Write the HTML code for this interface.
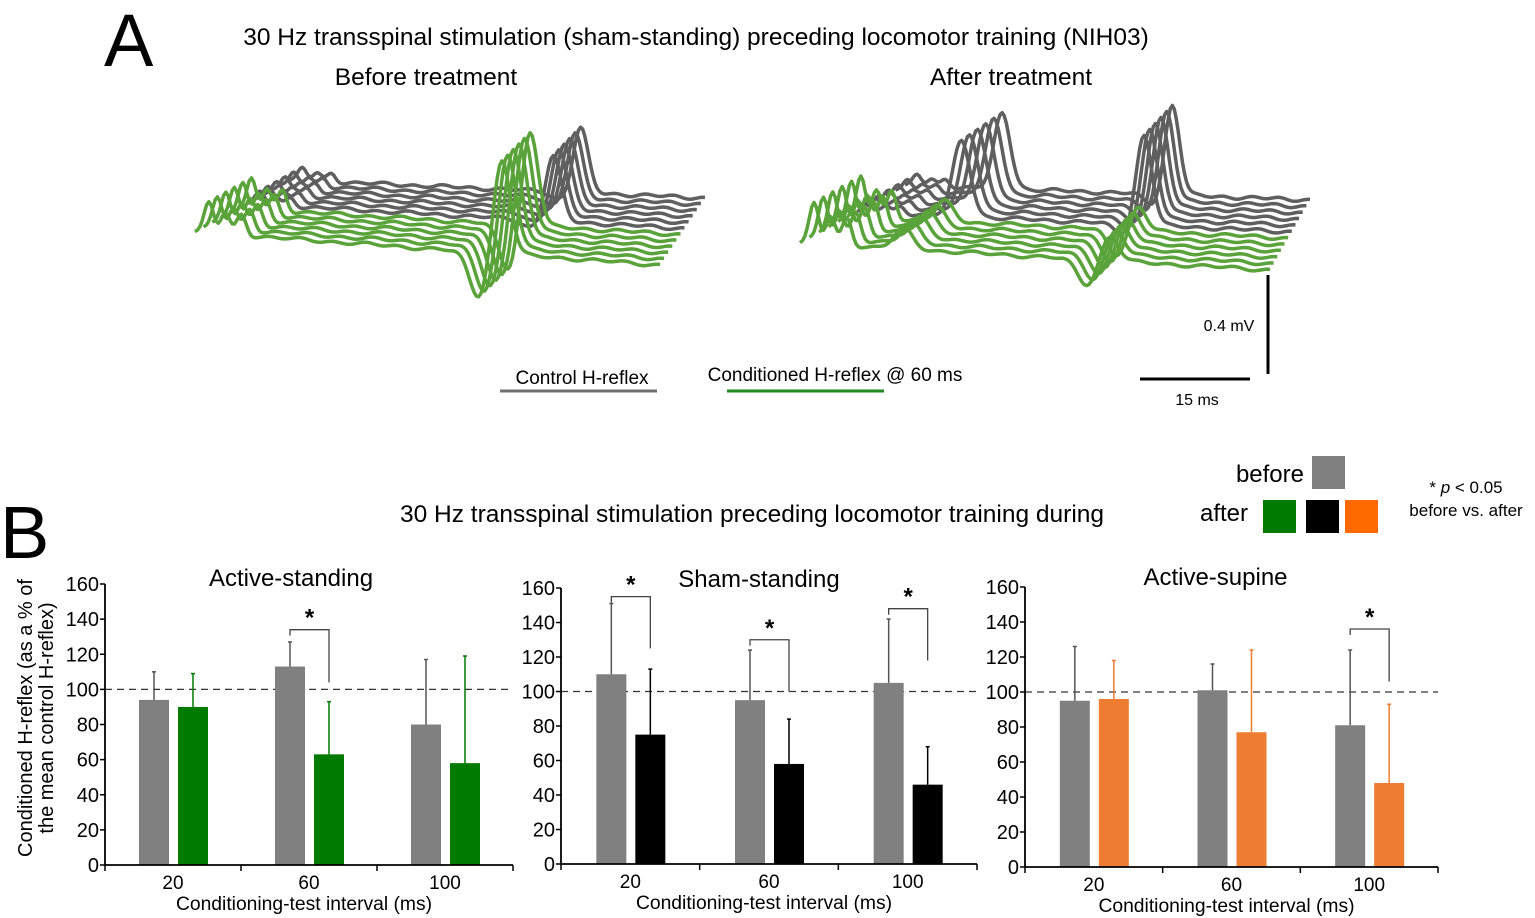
<!DOCTYPE html>
<html><head><meta charset="utf-8">
<style>
body{margin:0;background:#fff;}
svg{display:block;font-family:"Liberation Sans",Arial,sans-serif;}
</style></head>
<body>
<svg id="fig" width="1535" height="918" viewBox="0 0 1535 918" xmlns="http://www.w3.org/2000/svg">
<text x="104" y="66" font-size="74" fill="#000">A</text>
<text x="696" y="45" font-size="24.5" text-anchor="middle">30 Hz transspinal stimulation (sham-standing) preceding locomotor training (NIH03)</text>
<text x="426" y="85" font-size="24.5" text-anchor="middle">Before treatment</text>
<text x="1011" y="85" font-size="24.5" text-anchor="middle">After treatment</text>
<g id="traces"></g>
<g>
<text x="582" y="384" font-size="19" text-anchor="middle">Control H-reflex</text>
<line x1="500" y1="391" x2="657" y2="391" stroke="#707070" stroke-width="3"/>
<text x="835" y="381" font-size="19" text-anchor="middle">Conditioned H-reflex @ 60 ms</text>
<line x1="727" y1="391" x2="884" y2="391" stroke="#1f8a1f" stroke-width="3"/>
</g>
<g>
<line x1="1268" y1="275" x2="1268" y2="374" stroke="#000" stroke-width="3"/>
<line x1="1140" y1="379" x2="1250" y2="379" stroke="#000" stroke-width="3"/>
<text x="1229" y="331" font-size="16" text-anchor="middle">0.4 mV</text>
<text x="1197" y="405" font-size="16" text-anchor="middle">15 ms</text>
</g>
<text x="0" y="558" font-size="74" fill="#000">B</text>
<text x="752" y="522" font-size="24.5" text-anchor="middle">30 Hz transspinal stimulation preceding locomotor training during</text>
<g>
<text x="1304" y="482" font-size="24" text-anchor="end">before</text>
<rect x="1312" y="456" width="33" height="33" fill="#808080"/>
<text x="1248" y="521" font-size="24" text-anchor="end">after</text>
<rect x="1263" y="500" width="33" height="33" fill="#007a00"/>
<rect x="1306" y="500" width="33" height="33" fill="#000"/>
<rect x="1345" y="500" width="33" height="33" fill="#ff6a00"/>
<text x="1466" y="493" font-size="17" text-anchor="middle">* <tspan font-style="italic">p</tspan> &lt; 0.05</text>
<text x="1466" y="516" font-size="17" text-anchor="middle">before vs. after</text>
</g>
<g transform="translate(36,718) rotate(-90)">
<text x="0" y="-4" font-size="20" text-anchor="middle">Conditioned H-reflex (as a % of</text>
<text x="0" y="17" font-size="20" text-anchor="middle">the mean control H-reflex)</text>
</g>
<g id="charts"></g>
</svg>
<script>
const NS="http://www.w3.org/2000/svg";
const categories=["20","60","100"];
const yTicks=[0,20,40,60,80,100,120,140,160];
const activeBefore=[94,113,80];
const activeBeforeErr=[110,127,117];
const activeAfter=[90,63,58];
const activeAfterErr=[109,93,119];
const shamBefore=[110,95,105];
const shamBeforeErr=[151,124,142];
const shamAfter=[75,58,46];
const shamAfterErr=[113,84,68];
const supineBefore=[95,101,81];
const supineBeforeErr=[126,116,124];
const supineAfter=[96,77,48];
const supineAfterErr=[118,124,93];
const activeSig=[null,134,null];
const shamSig=[155,130,148];
const supineSig=[null,null,136];

function mk(tag,attrs,parent){const e=document.createElementNS(NS,tag);for(const k in attrs)e.setAttribute(k,attrs[k]);parent.appendChild(e);return e;}

const panels=[
 {name:"active-standing",title:"Active-standing",ax:105,y0:865,y160:584,xe:513,after:"#007a00",b:activeBefore,be:activeBeforeErr,a:activeAfter,ae:activeAfterErr,sig:activeSig,ty:586},
 {name:"sham-standing",title:"Sham-standing",ax:561,y0:864,y160:588,xe:977,after:"#000000",b:shamBefore,be:shamBeforeErr,a:shamAfter,ae:shamAfterErr,sig:shamSig,ty:587},
 {name:"active-supine",title:"Active-supine",ax:1025,y0:867,y160:587,xe:1438,after:"#ee7d31",b:supineBefore,be:supineBeforeErr,a:supineAfter,ae:supineAfterErr,sig:supineSig,ty:585}
];
const charts=document.getElementById('charts');
panels.forEach(p=>{
 const g=mk('g',{},charts);
 
 
 const y=v=>p.y0-(v/160)*(p.y0-p.y160);
 const cw=(p.xe-p.ax)/categories.length;
 const x=i=>p.ax+cw*(i+0.5);
 const t=mk('text',{x:(p.ax+p.xe)/2+(p.name==="active-standing"?-18:(p.name==="sham-standing"?-10:-16)),y:p.ty,'font-size':24,'text-anchor':'middle'},g);t.textContent=p.title;
 
 const d=mk('line',{x1:p.ax,x2:p.xe,y1:y(100),y2:y(100),stroke:'#333','stroke-width':1.3,'stroke-dasharray':'7,5'},g);
 
 categories.forEach((c,i)=>{
  const bx=x(i)-34, ax2=x(i)+5, bw=30;
  const r1=mk('rect',{x:bx,y:y(p.b[i]),width:bw,height:p.y0-y(p.b[i]),fill:'#808080'},g);
  
  const e1=mk('line',{x1:bx+bw/2,x2:bx+bw/2,y1:y(p.b[i]),y2:y(p.be[i]),stroke:'#555','stroke-width':1.5},g);
  
  mk('line',{x1:bx+bw/2-2,x2:bx+bw/2+2,y1:y(p.be[i]),y2:y(p.be[i]),stroke:'#555','stroke-width':1.5},g);
  const r2=mk('rect',{x:ax2,y:y(p.a[i]),width:bw,height:p.y0-y(p.a[i]),fill:p.after},g);
  
  const e2=mk('line',{x1:ax2+bw/2,x2:ax2+bw/2,y1:y(p.a[i]),y2:y(p.ae[i]),stroke:p.after,'stroke-width':1.5},g);
  
  mk('line',{x1:ax2+bw/2-2,x2:ax2+bw/2+2,y1:y(p.ae[i]),y2:y(p.ae[i]),stroke:p.after,'stroke-width':1.5},g);
  if(p.sig[i]!==null){
   const s=p.sig[i];
   const br=mk('path',{d:`M${bx+bw/2},${y(s)+6} V${y(s)} H${ax2+bw/2} V${y(s-30)}`,fill:'none',stroke:'#444','stroke-width':1.3},g);
   
   const st=mk('text',{x:(bx+ax2+bw)/2,y:y(s)-4,'font-size':24,'text-anchor':'middle','font-weight':'bold'},g);st.textContent='*';
   
  }
  const lb=mk('text',{x:x(i),y:p.y0+24,'font-size':19,'text-anchor':'middle'},g);lb.textContent=c;
  
 });
 for(let k=0;k<=categories.length;k++)mk('line',{x1:p.ax+cw*k,x2:p.ax+cw*k,y1:p.y0,y2:p.y0+6,stroke:'#000','stroke-width':1.5},g);
 const xa=mk('line',{x1:p.ax,x2:p.xe,y1:p.y0,y2:p.y0,stroke:'#000','stroke-width':1.8},g);
 
 const ya=mk('line',{x1:p.ax,x2:p.ax,y1:p.y0,y2:p.y160,stroke:'#000','stroke-width':1.8},g);
 
 yTicks.forEach(v=>{
  mk('line',{x1:p.ax-5,x2:p.ax,y1:y(v),y2:y(v),stroke:'#000','stroke-width':1.5},g);
  const tl=mk('text',{x:p.ax-6,y:y(v)+7,'font-size':20,'text-anchor':'end'},g);tl.textContent=v;
  
 });
 const xt=mk('text',{x:(p.ax+p.xe)/2-5,y:p.y0+45,'font-size':19.3,'text-anchor':'middle'},g);xt.textContent='Conditioning-test interval (ms)';
 
});

const tr=document.getElementById('traces');
function gauss(t,c,w){return Math.exp(-((t-c)*(t-c))/(2*w*w));}
function wave(t,cfg){
 let v=0;
 for(let k=0;k<3;k++)v+=cfg.art*gauss(t,0.03+k*0.035,0.01)*(k===0?1:0.7);
 v+=cfg.art2*gauss(t,cfg.a2c,0.02);
 v+=cfg.h*gauss(t,cfg.hc,0.018)-cfg.dip*gauss(t,cfg.hc-0.05,0.02);
 v+=1.2*Math.sin(t*90)+0.8*Math.sin(t*37);
 return v;
}
const wf=[
 {fs:[195,232],bs:[290,180],fe:[660,265],be:[705,198],n:12,gray:{art:12,art2:0,a2c:0.2,h:65,hc:0.70,dip:8},green:{art:30,art2:0,a2c:0.2,h:95,hc:0.66,dip:45}},
 {fs:[800,243],bs:[905,185],fe:[1270,270],be:[1310,200],n:12,gray:{art:10,art2:75,a2c:0.24,h:90,hc:0.66,dip:10},green:{art:40,art2:20,a2c:0.22,h:25,hc:0.66,dip:25}}
];
wf.forEach((W,pi)=>{
 for(let i=W.n-1;i>=0;i--){
  const f=i/(W.n-1);
  const sx=W.fs[0]+(W.bs[0]-W.fs[0])*f, sy=W.fs[1]+(W.bs[1]-W.fs[1])*f;
  const ex=W.fe[0]+(W.be[0]-W.fe[0])*f, ey=W.fe[1]+(W.be[1]-W.fe[1])*f;
  const isGray=i>=W.n/2;
  const cfg=isGray?W.gray:W.green;
  let d="";
  for(let s=0;s<=200;s++){
   const t=s/200;
   const px=sx+(ex-sx)*t, py=sy+(ey-sy)*t-wave(t,cfg);
   d+=(s?"L":"M")+px.toFixed(1)+","+py.toFixed(1);
  }
  const p=mk('path',{d:d,fill:'none',stroke:isGray?'#5f5f5f':'#5aa33a','stroke-width':3.5,'stroke-linejoin':'round'},tr);
  
  
 }
});
</script>
</body></html>
